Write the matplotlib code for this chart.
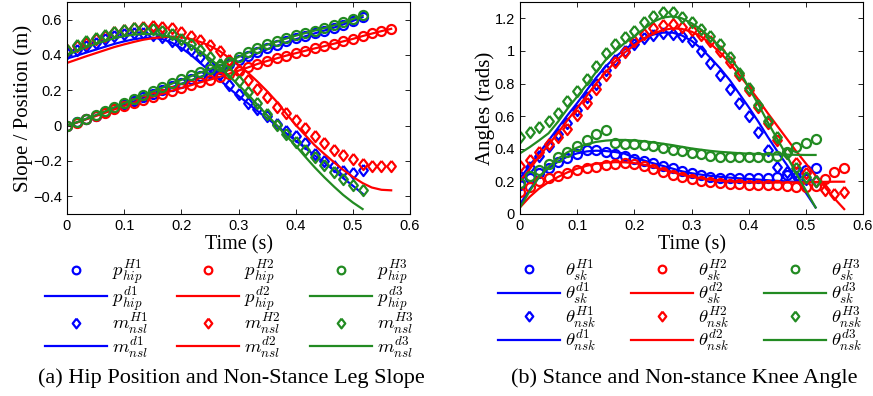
import matplotlib
matplotlib.use('Agg')
import matplotlib.pyplot as plt
from matplotlib.ticker import FuncFormatter, MultipleLocator

plt.rcParams['mathtext.fontset'] = 'cm'

# sample times (s)
t = [0.000, 0.017, 0.033, 0.050, 0.067, 0.083, 0.100, 0.117, 0.133, 0.150,
     0.167, 0.183, 0.200, 0.217, 0.233, 0.250, 0.267, 0.283, 0.300, 0.317,
     0.333, 0.350, 0.367, 0.383, 0.400, 0.417, 0.433, 0.450, 0.467, 0.483,
     0.500, 0.517, 0.533, 0.550, 0.567]

# ---- (a) hip position and non-stance leg slope ----
p_hip_H1 = [0.000, 0.018, 0.036, 0.057, 0.079, 0.100, 0.122, 0.142, 0.162, 0.182,
            0.202, 0.222, 0.242, 0.262, 0.281, 0.300, 0.322, 0.348, 0.372, 0.395,
            0.418, 0.440, 0.459, 0.477, 0.494, 0.509, 0.523, 0.538, 0.554, 0.572,
            0.592, 0.615]
p_hip_H2 = [0.000, 0.017, 0.035, 0.054, 0.073, 0.092, 0.111, 0.129, 0.147, 0.164,
            0.181, 0.198, 0.214, 0.230, 0.246, 0.261, 0.276, 0.291, 0.310, 0.331,
            0.351, 0.367, 0.382, 0.396, 0.410, 0.424, 0.437, 0.450, 0.464, 0.477,
            0.491, 0.508, 0.522, 0.536, 0.549]
p_hip_H3 = [0.000, 0.018, 0.037, 0.059, 0.083, 0.107, 0.131, 0.153, 0.175, 0.196,
            0.218, 0.240, 0.262, 0.284, 0.303, 0.321, 0.340, 0.362, 0.388, 0.415,
            0.440, 0.462, 0.478, 0.495, 0.512, 0.526, 0.538, 0.552, 0.567, 0.584,
            0.603, 0.625]
p_hip_d1 = [0.000, 0.018, 0.037, 0.057, 0.077, 0.097, 0.117, 0.137, 0.157, 0.177,
            0.197, 0.217, 0.237, 0.256, 0.276, 0.296, 0.316, 0.338, 0.362, 0.386,
            0.409, 0.432, 0.452, 0.471, 0.489, 0.506, 0.522, 0.538, 0.555, 0.573,
            0.593, 0.615]
p_hip_d2 = [0.000, 0.017, 0.035, 0.054, 0.073, 0.092, 0.111, 0.129, 0.146, 0.163,
            0.180, 0.197, 0.213, 0.229, 0.245, 0.260, 0.276, 0.293, 0.311, 0.330,
            0.349, 0.366, 0.381, 0.396, 0.410, 0.424, 0.437, 0.450, 0.464, 0.477,
            0.491, 0.507, 0.521, 0.535, 0.548]
p_hip_d3 = [0.000, 0.019, 0.038, 0.059, 0.081, 0.104, 0.127, 0.149, 0.171, 0.193,
            0.215, 0.237, 0.259, 0.280, 0.300, 0.320, 0.341, 0.364, 0.389, 0.414,
            0.437, 0.458, 0.476, 0.493, 0.509, 0.524, 0.538, 0.552, 0.567, 0.584,
            0.603, 0.624]

m_nsl_H1 = [0.410, 0.430, 0.450, 0.470, 0.490, 0.508, 0.518, 0.524, 0.524, 0.515,
            0.500, 0.480, 0.458, 0.430, 0.390, 0.345, 0.290, 0.232, 0.180, 0.130,
            0.095, 0.055, 0.010, -0.030, -0.060, -0.100, -0.160, -0.200, -0.230, -0.255,
            -0.268, -0.250]
m_nsl_H2 = [0.430, 0.450, 0.470, 0.490, 0.510, 0.530, 0.540, 0.550, 0.558, 0.562,
            0.560, 0.550, 0.530, 0.510, 0.485, 0.458, 0.420, 0.370, 0.315, 0.260,
            0.210, 0.160, 0.105, 0.073, 0.034, -0.012, -0.060, -0.098, -0.136, -0.164,
            -0.190, -0.215, -0.226, -0.230, -0.226]
m_nsl_H3 = [0.430, 0.458, 0.477, 0.496, 0.515, 0.532, 0.543, 0.551, 0.552, 0.546,
            0.535, 0.518, 0.492, 0.462, 0.428, 0.390, 0.348, 0.303, 0.250, 0.190,
            0.128, 0.065, 0.006, -0.045, -0.095, -0.140, -0.180, -0.220, -0.260, -0.300,
            -0.335, -0.362]
m_nsl_d1 = [0.380, 0.396, 0.413, 0.430, 0.447, 0.463, 0.477, 0.489, 0.496, 0.498,
            0.490, 0.470, 0.440, 0.400, 0.355, 0.308, 0.260, 0.213, 0.168, 0.125,
            0.083, 0.042, 0.000, -0.042, -0.085, -0.127, -0.168, -0.210, -0.253, -0.297,
            -0.340, -0.385]
m_nsl_d2 = [0.355, 0.374, 0.392, 0.410, 0.428, 0.445, 0.460, 0.474, 0.486, 0.495,
            0.501, 0.503, 0.500, 0.490, 0.474, 0.452, 0.422, 0.385, 0.343, 0.298,
            0.250, 0.195, 0.135, 0.070, 0.004, -0.055, -0.110, -0.160, -0.207, -0.250,
            -0.290, -0.325, -0.350, -0.363, -0.366]
m_nsl_d3 = [0.400, 0.422, 0.443, 0.462, 0.480, 0.495, 0.507, 0.515, 0.519, 0.518,
            0.512, 0.500, 0.481, 0.455, 0.421, 0.380, 0.333, 0.283, 0.230, 0.175,
            0.118, 0.060, 0.002, -0.056, -0.113, -0.177, -0.235, -0.292, -0.345, -0.392,
            -0.435, -0.472]

# ---- (b) stance and non-stance knee angle ----
th_sk_H1 = [0.180, 0.219, 0.250, 0.282, 0.318, 0.342, 0.370, 0.395, 0.392, 0.380,
            0.368, 0.355, 0.340, 0.325, 0.310, 0.295, 0.280, 0.262, 0.250, 0.238,
            0.228, 0.223, 0.221, 0.220, 0.220, 0.221, 0.223, 0.226, 0.240, 0.258,
            0.268, 0.284]
th_sk_H2 = [0.135, 0.167, 0.203, 0.222, 0.234, 0.250, 0.268, 0.280, 0.290, 0.298,
            0.307, 0.312, 0.305, 0.295, 0.278, 0.255, 0.238, 0.224, 0.212, 0.203,
            0.196, 0.190, 0.186, 0.182, 0.180, 0.178, 0.176, 0.175, 0.172, 0.168,
            0.163, 0.172, 0.215, 0.255, 0.285]
th_sk_H3 = [0.190, 0.232, 0.268, 0.308, 0.348, 0.380, 0.418, 0.452, 0.490, 0.513,
            0.436, 0.432, 0.428, 0.422, 0.414, 0.405, 0.395, 0.385, 0.375, 0.366,
            0.358, 0.352, 0.349, 0.348, 0.348, 0.349, 0.352, 0.358, 0.380, 0.410,
            0.436, 0.460]
th_sk_d1 = [0.060, 0.150, 0.225, 0.280, 0.322, 0.352, 0.372, 0.384, 0.388, 0.386,
            0.380, 0.370, 0.345, 0.328, 0.311, 0.295, 0.278, 0.262, 0.250, 0.241,
            0.234, 0.228, 0.223, 0.219, 0.215, 0.211, 0.207, 0.203, 0.200, 0.197,
            0.195, 0.194]
th_sk_d2 = [0.040, 0.105, 0.155, 0.195, 0.228, 0.255, 0.278, 0.296, 0.308, 0.315,
            0.318, 0.317, 0.312, 0.302, 0.288, 0.272, 0.256, 0.241, 0.228, 0.218,
            0.210, 0.204, 0.200, 0.197, 0.195, 0.194, 0.193, 0.193, 0.193, 0.194,
            0.195, 0.196, 0.197, 0.198, 0.198]
th_sk_d3 = [0.040, 0.140, 0.225, 0.290, 0.340, 0.378, 0.407, 0.428, 0.442, 0.450,
            0.454, 0.454, 0.451, 0.446, 0.439, 0.431, 0.422, 0.412, 0.402, 0.394,
            0.387, 0.381, 0.377, 0.373, 0.370, 0.368, 0.366, 0.365, 0.364, 0.363,
            0.362, 0.362]

th_nsk_H1 = [0.230, 0.290, 0.355, 0.420, 0.490, 0.560, 0.640, 0.720, 0.800, 0.880,
             0.945, 1.000, 1.045, 1.080, 1.100, 1.110, 1.105, 1.090, 1.060, 1.000,
             0.925, 0.850, 0.765, 0.680, 0.600, 0.505, 0.390, 0.290, 0.255, 0.235,
             0.215, 0.205]
th_nsk_H2 = [0.296, 0.330, 0.380, 0.430, 0.470, 0.520, 0.606, 0.679, 0.768, 0.850,
             0.935, 0.995, 1.060, 1.105, 1.139, 1.160, 1.162, 1.148, 1.128, 1.100,
             1.058, 1.000, 0.935, 0.850, 0.760, 0.655, 0.555, 0.455, 0.375, 0.310,
             0.250, 0.200, 0.150, 0.125, 0.133]
th_nsk_H3 = [0.470, 0.500, 0.535, 0.568, 0.620, 0.690, 0.755, 0.830, 0.905, 0.985,
             1.040, 1.085, 1.125, 1.175, 1.215, 1.240, 1.240, 1.210, 1.175, 1.135,
             1.090, 1.045, 0.960, 0.865, 0.770, 0.670, 0.570, 0.470, 0.375, 0.285,
             0.225, 0.200]
th_nsk_d1 = [0.220, 0.295, 0.372, 0.450, 0.530, 0.605, 0.680, 0.760, 0.835, 0.905,
             0.963, 1.010, 1.048, 1.078, 1.100, 1.112, 1.112, 1.095, 1.062, 1.015,
             0.958, 0.893, 0.820, 0.740, 0.655, 0.565, 0.475, 0.385, 0.300, 0.215,
             0.130, 0.040]
th_nsk_d2 = [0.200, 0.275, 0.350, 0.425, 0.500, 0.575, 0.650, 0.725, 0.800, 0.870,
             0.935, 0.990, 1.035, 1.075, 1.105, 1.128, 1.138, 1.135, 1.118, 1.088,
             1.045, 0.990, 0.925, 0.855, 0.780, 0.700, 0.620, 0.540, 0.460, 0.385,
             0.310, 0.235, 0.165, 0.095, 0.030]
th_nsk_d3 = [0.372, 0.410, 0.450, 0.495, 0.568, 0.645, 0.720, 0.795, 0.870, 0.945,
             1.000, 1.048, 1.090, 1.135, 1.178, 1.205, 1.212, 1.200, 1.170, 1.130,
             1.082, 1.025, 0.960, 0.885, 0.775, 0.672, 0.565, 0.460, 0.355, 0.250,
             0.145, 0.040]

colors = ['#0000ff', '#ff0000', '#228b22']

# MATLAB-style diamond, a bit narrower than tall
diamond = [(0, 1), (0.78, 0), (0, -1), (-0.78, 0), (0, 1)]

fig = plt.figure(figsize=(8.73, 3.96), dpi=100)
axa = fig.add_axes([0.0767, 0.4596, 0.393, 0.5354])
axb = fig.add_axes([0.5956, 0.4596, 0.393, 0.5354])

ms = 6.5
mew = 1.6
lw = 1.6


def draw(ax, circ, circ_lines, diam, diam_lines):
    cols = []
    for i in range(3):
        c = colors[i]
        h1, = ax.plot(t[:len(circ[i])], circ[i], 'o', ms=ms, mew=mew, mfc='none', mec=c)
        h2, = ax.plot(t[:len(circ_lines[i])], circ_lines[i], '-', lw=lw, color=c)
        h3, = ax.plot(t[:len(diam[i])], diam[i], ls='none', marker=diamond, ms=ms + 1.5,
                      mew=mew, mfc='none', mec=c)
        h4, = ax.plot(t[:len(diam_lines[i])], diam_lines[i], '-', lw=lw, color=c)
        cols.append([h1, h2, h3, h4])
    return cols


fmt = FuncFormatter(lambda v, p: ('%g' % round(v, 3)).replace('-', '\u2212'))

hand_a = draw(axa, [p_hip_H1, p_hip_H2, p_hip_H3], [p_hip_d1, p_hip_d2, p_hip_d3],
              [m_nsl_H1, m_nsl_H2, m_nsl_H3], [m_nsl_d1, m_nsl_d2, m_nsl_d3])
hand_b = draw(axb, [th_sk_H1, th_sk_H2, th_sk_H3], [th_sk_d1, th_sk_d2, th_sk_d3],
              [th_nsk_H1, th_nsk_H2, th_nsk_H3], [th_nsk_d1, th_nsk_d2, th_nsk_d3])

axa.set_ylim(-0.5, 0.7)
axb.set_ylim(0, 1.3)
for ax in (axa, axb):
    ax.set_xlim(0, 0.6)
    ax.xaxis.set_major_locator(MultipleLocator(0.1))
    ax.yaxis.set_major_locator(MultipleLocator(0.2))
    ax.xaxis.set_major_formatter(fmt)
    ax.yaxis.set_major_formatter(fmt)
    ax.tick_params(direction='in', top=True, right=True, length=3.5, width=0.6,
                   labelsize=10.5)
    for lab in ax.get_xticklabels() + ax.get_yticklabels():
        lab.set_fontfamily('Liberation Sans')
    ax.set_xlabel('Time (s)', family='Liberation Serif', fontsize=14.5, labelpad=2)
    for s in ax.spines.values():
        s.set_linewidth(0.8)

axa.set_ylabel('Slope / Position (m)', family='Liberation Serif', fontsize=15, labelpad=0)
axb.set_ylabel('Angles (rads)', family='Liberation Serif', fontsize=15, labelpad=0)

labels_a = [[r'$p^{H%d}_{hip}$' % k, r'$p^{d%d}_{hip}$' % k,
             r'$m^{H%d}_{nsl}$' % k, r'$m^{d%d}_{nsl}$' % k] for k in (1, 2, 3)]
labels_b = [[r'$\theta^{H%d}_{sk}$' % k, r'$\theta^{d%d}_{sk}$' % k,
             r'$\theta^{H%d}_{nsk}$' % k, r'$\theta^{d%d}_{nsk}$' % k] for k in (1, 2, 3)]

W, H = 873.0, 396.0
col_x_a = [45, 177, 310]
col_x_b = [498, 631, 764]
for col_x, hands, labs in ((col_x_a, hand_a, labels_a), (col_x_b, hand_b, labels_b)):
    for i in range(3):
        leg = fig.legend(hands[i], labs[i], loc='upper left',
                         bbox_to_anchor=(col_x[i] / W, 1 - 257 / H),
                         frameon=False, fontsize=13.5, numpoints=1,
                         handlelength=3.3, handletextpad=0.28,
                         labelspacing=-0.12, borderpad=0, borderaxespad=0)
        for h in leg.legend_handles:
            if h.get_marker() == 'o':
                h.set_markersize(5.5)
            elif h.get_marker() not in ('None', None, ''):
                h.set_markersize(7)

fig.text(231 / W, 1 - 378 / H, '(a) Hip Position and Non-Stance Leg Slope',
         ha='center', va='center', family='Liberation Serif', fontsize=16)
fig.text(684 / W, 1 - 378 / H, '(b) Stance and Non-stance Knee Angle',
         ha='center', va='center', family='Liberation Serif', fontsize=16)

fig.savefig('out.png', dpi=100)
